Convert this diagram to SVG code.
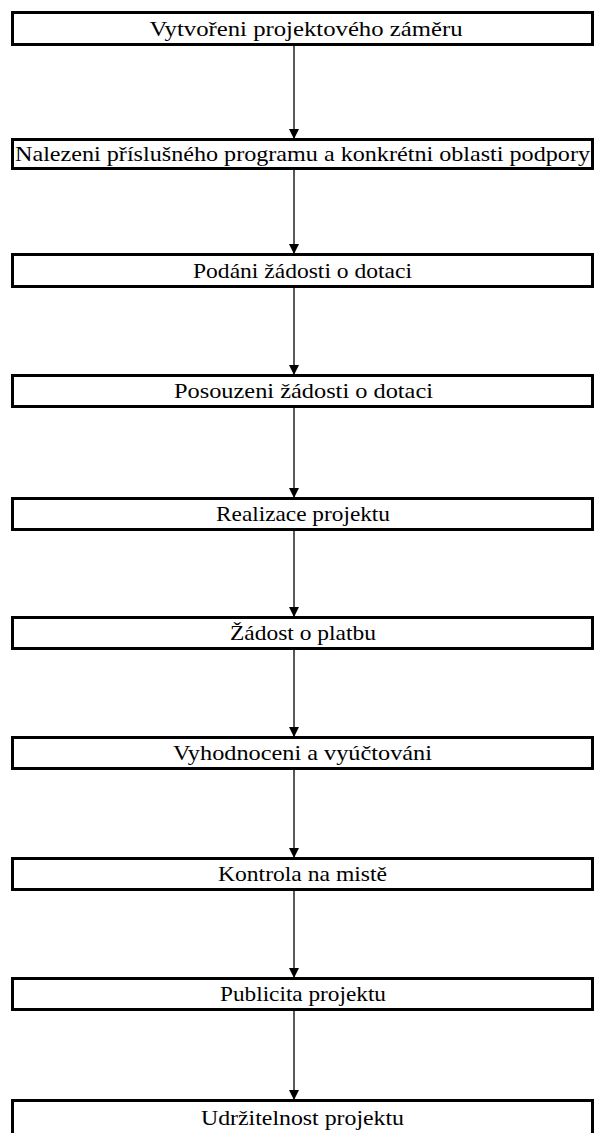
<svg xmlns="http://www.w3.org/2000/svg" width="595" height="1133" viewBox="0 0 595 1133">
<style>
.box{fill:#fff;stroke:#000;stroke-width:3}
.t{font-family:"Liberation Serif","Times New Roman",serif;font-size:21px;fill:#000;text-anchor:middle}
.c{stroke:#222;stroke-width:1.5;fill:none;marker-end:url(#ah)}
</style>
<defs>
<marker id="ah" viewBox="0 0 10 10" refX="10" refY="5" markerWidth="10" markerHeight="10" markerUnits="userSpaceOnUse" orient="auto">
<path d="M0,0 L10,5 L0,10 z" fill="#000"/>
</marker>
</defs>
<rect width="595" height="1133" fill="#fff"/>
<g id="connectors">
<line class="c" x1="294" y1="45" x2="294" y2="139"/>
<line class="c" x1="294" y1="169" x2="294" y2="254"/>
<line class="c" x1="294" y1="287" x2="294" y2="375"/>
<line class="c" x1="294" y1="407" x2="294" y2="498"/>
<line class="c" x1="294" y1="530" x2="294" y2="617"/>
<line class="c" x1="294" y1="649" x2="294" y2="737"/>
<line class="c" x1="294" y1="769" x2="294" y2="858"/>
<line class="c" x1="294" y1="890" x2="294" y2="978"/>
<line class="c" x1="294" y1="1010" x2="294" y2="1100"/>
</g>
<g id="n1"><rect class="box" x="12.5" y="12.5" width="580" height="32"/><text class="t" x="306" y="36" textLength="313" lengthAdjust="spacingAndGlyphs">Vytvořeni projektového záměru</text></g>
<g id="n2"><rect class="box" x="12.5" y="139.5" width="580" height="29"/><text class="t" x="302.5" y="161" textLength="575" lengthAdjust="spacingAndGlyphs">Nalezeni příslušného programu a konkrétni oblasti podpory</text></g>
<g id="n3"><rect class="box" x="12.5" y="254.5" width="580" height="32"/><text class="t" x="302.5" y="278" textLength="219" lengthAdjust="spacingAndGlyphs">Podáni žádosti o dotaci</text></g>
<g id="n4"><rect class="box" x="12.5" y="375.5" width="580" height="31"/><text class="t" x="303.5" y="398" textLength="259" lengthAdjust="spacingAndGlyphs">Posouzeni žádosti o dotaci</text></g>
<g id="n5"><rect class="box" x="12.5" y="498.5" width="580" height="31"/><text class="t" x="303" y="521" textLength="174" lengthAdjust="spacingAndGlyphs">Realizace projektu</text></g>
<g id="n6"><rect class="box" x="12.5" y="617.5" width="580" height="31"/><text class="t" x="303" y="640" textLength="146" lengthAdjust="spacingAndGlyphs">Žádost o platbu</text></g>
<g id="n7"><rect class="box" x="12.5" y="737.5" width="580" height="31"/><text class="t" x="302.5" y="760" textLength="259" lengthAdjust="spacingAndGlyphs">Vyhodnoceni a vyúčtováni</text></g>
<g id="n8"><rect class="box" x="12.5" y="858.5" width="580" height="31"/><text class="t" x="302.5" y="881" textLength="169" lengthAdjust="spacingAndGlyphs">Kontrola na mistě</text></g>
<g id="n9"><rect class="box" x="12.5" y="978.5" width="580" height="31"/><text class="t" x="303" y="1001" textLength="166" lengthAdjust="spacingAndGlyphs">Publicita projektu</text></g>
<g id="n10"><rect class="box" x="12.5" y="1100.5" width="580" height="40"/><text class="t" x="302.5" y="1125" textLength="203" lengthAdjust="spacingAndGlyphs">Udržitelnost projektu</text></g>
</svg>
